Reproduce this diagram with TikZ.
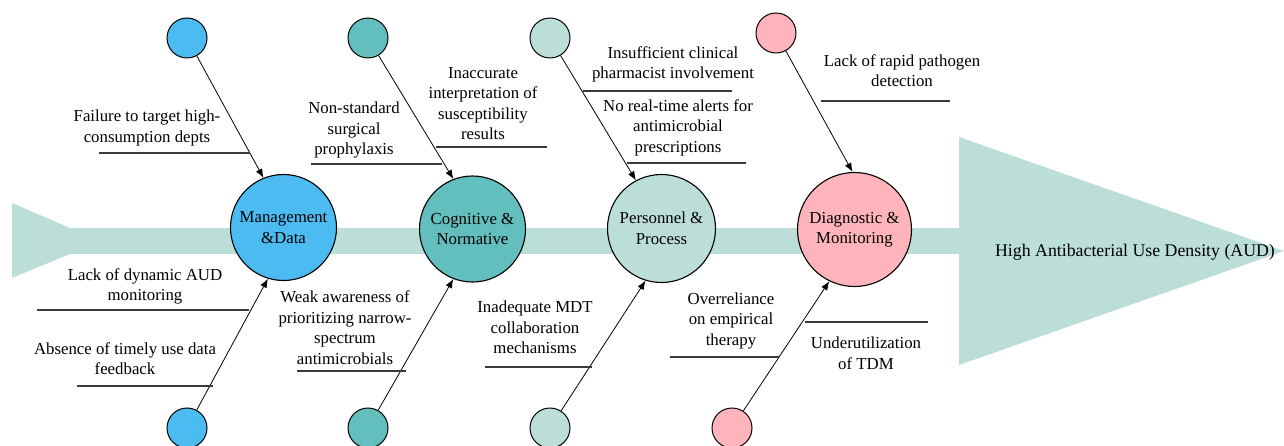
\documentclass[tikz,border=0pt]{standalone}
\usepackage{fontspec}
\setmainfont{Liberation Serif}
\usetikzlibrary{arrows.meta}
\definecolor{spine}{HTML}{BBDFD8}
\definecolor{cmgmt}{HTML}{4BBBF1}
\definecolor{ccog}{HTML}{62BFBD}
\definecolor{cpers}{HTML}{BCDED8}
\definecolor{cdiag}{HTML}{FFB3BA}
\definecolor{uline}{HTML}{3A3A3A}
\begin{document}
\begin{tikzpicture}[x=1pt,y=-1pt,
  every node/.style={font=\fontsize{16.8}{20.5}\selectfont},
  maincirc/.style={circle,draw=black,line width=1.1pt,align=center,inner sep=0pt},
  smallcirc/.style={circle,draw=black,line width=1pt,minimum size=40pt,inner sep=0pt},
  cause/.style={align=center,inner sep=0pt},
  uline/.style={draw=uline,line width=1.2pt},
  causearrow/.style={draw=black,line width=0.8pt,-{Latex[length=9pt,width=7pt]}}]
\useasboundingbox (0,0) rectangle (1284,446);
% spine
\fill[spine] (12,203) -- (70,228) -- (70,254) -- (12,278) -- cycle;
\fill[spine] (69,228) rectangle (961,254);
\fill[spine] (959,137) -- (1284,251) -- (959,365) -- cycle;
\node[cause,font=\fontsize{17.8}{21}\selectfont] (head) at (1135,252) {High Antibacterial Use Density (AUD)};
% main category circles
\node[maincirc,fill=cmgmt,minimum size=106pt] (m) at (283.5,227.5) {Management\\\&Data};
\node[maincirc,fill=ccog,minimum size=106pt] (c) at (472.5,229) {Cognitive \&\\Normative};
\node[maincirc,fill=cpers,minimum size=108pt] (p) at (661.5,228.5) {Personnel \&\\Process};
\node[maincirc,fill=cdiag,minimum size=114pt] (d) at (854.5,229.5) {Diagnostic \&\\Monitoring};
% small circles
\node[smallcirc,fill=cmgmt] (mt) at (187,38) {};
\node[smallcirc,fill=cmgmt] (mb) at (187,428) {};
\node[smallcirc,fill=ccog] (ct) at (368,38) {};
\node[smallcirc,fill=ccog] (cb) at (368,428) {};
\node[smallcirc,fill=cpers] (pt) at (550,38) {};
\node[smallcirc,fill=cpers] (pb) at (550,428) {};
\node[smallcirc,fill=cdiag] (dt) at (776,33) {};
\node[smallcirc,fill=cdiag] (db) at (732,428) {};
% arrows
\draw[causearrow] (mt) -- (m.112);
\draw[causearrow] (mb) -- (m.-107);
\draw[causearrow] (ct) -- (c.111);
\draw[causearrow] (cb) -- (c.-111);
\draw[causearrow] (pt) -- (p.118);
\draw[causearrow] (pb) -- (p.-107);
\draw[causearrow] (dt) -- (d.92);
\draw[causearrow] (db) -- (d.-116);
% cause labels
\node[cause] (m1) at (147,128) {Failure to target high-\\consumption depts};
\draw[uline] (99,153) -- (250,153);
\node[cause] (m2) at (145,286.5) {Lack of dynamic AUD\\monitoring};
\draw[uline] (37,310) -- (249,310);
\node[cause] (m3) at (125,358.5) {Absence of timely use data\\feedback};
\draw[uline] (77,386) -- (213,386);
\node[cause] (c1) at (354,130) {Non-standard\\surgical\\prophylaxis};
\draw[uline] (311,164) -- (442,164);
\node[cause] (c2) at (483,103.5) {Inaccurate\\interpretation of\\susceptibility\\results};
\draw[uline] (436,147) -- (547,147);
\node[cause] (c3) at (345,327.5) {Weak awareness of\\prioritizing narrow-\\spectrum\\antimicrobials};
\draw[uline] (297,371) -- (406,371);
\node[cause] (c4) at (535,327.5) {Inadequate MDT\\collaboration\\mechanisms};
\draw[uline] (485,367) -- (592,367);
\node[cause] (p1) at (673,64.5) {Insufficient clinical\\pharmacist involvement};
\draw[uline] (583,91) -- (732,91);
\node[cause] (p2) at (678,127.5) {No real-time alerts for\\antimicrobial\\prescriptions};
\draw[uline] (627,163) -- (746,163);
\node[cause] (p3) at (731,320.5) {Overreliance\\on empirical\\therapy};
\draw[uline] (670,357) -- (779,357);
\node[cause] (d1) at (902,70.5) {Lack of rapid pathogen\\detection};
\draw[uline] (821,101) -- (950,101);
\node[cause] (d2) at (866,353.5) {Underutilization\\of TDM};
\draw[uline] (805,322) -- (928,322);
\end{tikzpicture}
\end{document}
